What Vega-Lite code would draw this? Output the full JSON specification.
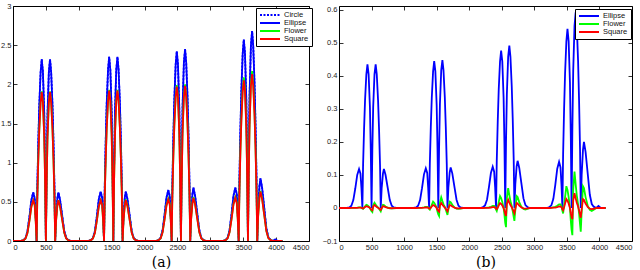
{
  "$schema": "https://vega.github.io/schema/vega-lite/v6.json",
  "background": "#ffffff",
  "padding": {"left": 0, "top": 1, "right": 0, "bottom": 0},
  "spacing": 30,
  "bounds": "flush",
  "datasets": {
    "a": [
      {"x":0,"Circle":0,"Ellipse":0,"Flower":0,"Square":0},
      {"x":120,"Circle":0,"Ellipse":0,"Flower":0,"Square":0},
      {"x":160,"Circle":0.012,"Ellipse":0.012,"Flower":0.01,"Square":0.01},
      {"x":190,"Circle":0.037,"Ellipse":0.037,"Flower":0.031,"Square":0.031},
      {"x":220,"Circle":0.124,"Ellipse":0.124,"Flower":0.104,"Square":0.104},
      {"x":250,"Circle":0.31,"Ellipse":0.31,"Flower":0.26,"Square":0.26},
      {"x":280,"Circle":0.527,"Ellipse":0.527,"Flower":0.442,"Square":0.442},
      {"x":308,"Circle":0.62,"Ellipse":0.62,"Flower":0.52,"Square":0.52},
      {"x":330,"Circle":0.546,"Ellipse":0.546,"Flower":0.458,"Square":0.458},
      {"x":345,"Circle":0.31,"Ellipse":0.31,"Flower":0.26,"Square":0.26},
      {"x":359,"Circle":0,"Ellipse":0,"Flower":0,"Square":0},
      {"x":370,"Circle":0.696,"Ellipse":0.696,"Flower":0.573,"Square":0.57},
      {"x":385,"Circle":1.276,"Ellipse":1.276,"Flower":1.051,"Square":1.045},
      {"x":400,"Circle":1.74,"Ellipse":1.74,"Flower":1.433,"Square":1.425},
      {"x":420,"Circle":2.158,"Ellipse":2.158,"Flower":1.776,"Square":1.767},
      {"x":437,"Circle":2.32,"Ellipse":2.32,"Flower":1.91,"Square":1.9},
      {"x":455,"Circle":2.158,"Ellipse":2.158,"Flower":1.776,"Square":1.767},
      {"x":475,"Circle":1.624,"Ellipse":1.624,"Flower":1.337,"Square":1.33},
      {"x":488,"Circle":0.928,"Ellipse":0.928,"Flower":0.764,"Square":0.76},
      {"x":500,"Circle":0,"Ellipse":0,"Flower":0,"Square":0},
      {"x":512,"Circle":0.928,"Ellipse":0.928,"Flower":0.764,"Square":0.76},
      {"x":525,"Circle":1.624,"Ellipse":1.624,"Flower":1.337,"Square":1.33},
      {"x":545,"Circle":2.158,"Ellipse":2.158,"Flower":1.776,"Square":1.767},
      {"x":563,"Circle":2.32,"Ellipse":2.32,"Flower":1.91,"Square":1.9},
      {"x":580,"Circle":2.158,"Ellipse":2.158,"Flower":1.776,"Square":1.767},
      {"x":600,"Circle":1.74,"Ellipse":1.74,"Flower":1.433,"Square":1.425},
      {"x":615,"Circle":1.276,"Ellipse":1.276,"Flower":1.051,"Square":1.045},
      {"x":630,"Circle":0.696,"Ellipse":0.696,"Flower":0.573,"Square":0.57},
      {"x":641,"Circle":0,"Ellipse":0,"Flower":0,"Square":0},
      {"x":655,"Circle":0.31,"Ellipse":0.31,"Flower":0.26,"Square":0.26},
      {"x":675,"Circle":0.546,"Ellipse":0.546,"Flower":0.458,"Square":0.458},
      {"x":690,"Circle":0.62,"Ellipse":0.62,"Flower":0.52,"Square":0.52},
      {"x":715,"Circle":0.527,"Ellipse":0.527,"Flower":0.442,"Square":0.442},
      {"x":750,"Circle":0.31,"Ellipse":0.31,"Flower":0.26,"Square":0.26},
      {"x":780,"Circle":0.124,"Ellipse":0.124,"Flower":0.104,"Square":0.104},
      {"x":810,"Circle":0.037,"Ellipse":0.037,"Flower":0.031,"Square":0.031},
      {"x":840,"Circle":0.012,"Ellipse":0.012,"Flower":0.01,"Square":0.01},
      {"x":880,"Circle":0,"Ellipse":0,"Flower":0,"Square":0},
      {"x":1145,"Circle":0,"Ellipse":0,"Flower":0,"Square":0},
      {"x":1185,"Circle":0.013,"Ellipse":0.013,"Flower":0.01,"Square":0.01},
      {"x":1215,"Circle":0.038,"Ellipse":0.038,"Flower":0.031,"Square":0.031},
      {"x":1245,"Circle":0.126,"Ellipse":0.126,"Flower":0.104,"Square":0.104},
      {"x":1275,"Circle":0.315,"Ellipse":0.315,"Flower":0.26,"Square":0.26},
      {"x":1305,"Circle":0.536,"Ellipse":0.536,"Flower":0.442,"Square":0.442},
      {"x":1333,"Circle":0.63,"Ellipse":0.63,"Flower":0.52,"Square":0.52},
      {"x":1355,"Circle":0.554,"Ellipse":0.554,"Flower":0.458,"Square":0.458},
      {"x":1370,"Circle":0.315,"Ellipse":0.315,"Flower":0.26,"Square":0.26},
      {"x":1384,"Circle":0,"Ellipse":0,"Flower":0,"Square":0},
      {"x":1395,"Circle":0.705,"Ellipse":0.705,"Flower":0.579,"Square":0.576},
      {"x":1410,"Circle":1.293,"Ellipse":1.293,"Flower":1.062,"Square":1.056},
      {"x":1425,"Circle":1.763,"Ellipse":1.763,"Flower":1.448,"Square":1.44},
      {"x":1445,"Circle":2.186,"Ellipse":2.186,"Flower":1.795,"Square":1.786},
      {"x":1462,"Circle":2.35,"Ellipse":2.35,"Flower":1.93,"Square":1.92},
      {"x":1480,"Circle":2.186,"Ellipse":2.186,"Flower":1.795,"Square":1.786},
      {"x":1500,"Circle":1.645,"Ellipse":1.645,"Flower":1.351,"Square":1.344},
      {"x":1513,"Circle":0.94,"Ellipse":0.94,"Flower":0.772,"Square":0.768},
      {"x":1525,"Circle":0,"Ellipse":0,"Flower":0,"Square":0},
      {"x":1537,"Circle":0.94,"Ellipse":0.94,"Flower":0.772,"Square":0.768},
      {"x":1550,"Circle":1.645,"Ellipse":1.645,"Flower":1.351,"Square":1.344},
      {"x":1570,"Circle":2.186,"Ellipse":2.186,"Flower":1.795,"Square":1.786},
      {"x":1588,"Circle":2.35,"Ellipse":2.35,"Flower":1.93,"Square":1.92},
      {"x":1605,"Circle":2.186,"Ellipse":2.186,"Flower":1.795,"Square":1.786},
      {"x":1625,"Circle":1.763,"Ellipse":1.763,"Flower":1.448,"Square":1.44},
      {"x":1640,"Circle":1.293,"Ellipse":1.293,"Flower":1.062,"Square":1.056},
      {"x":1655,"Circle":0.705,"Ellipse":0.705,"Flower":0.579,"Square":0.576},
      {"x":1666,"Circle":0,"Ellipse":0,"Flower":0,"Square":0},
      {"x":1680,"Circle":0.315,"Ellipse":0.315,"Flower":0.265,"Square":0.26},
      {"x":1700,"Circle":0.554,"Ellipse":0.554,"Flower":0.466,"Square":0.458},
      {"x":1715,"Circle":0.63,"Ellipse":0.63,"Flower":0.53,"Square":0.52},
      {"x":1740,"Circle":0.536,"Ellipse":0.536,"Flower":0.451,"Square":0.442},
      {"x":1775,"Circle":0.315,"Ellipse":0.315,"Flower":0.265,"Square":0.26},
      {"x":1805,"Circle":0.126,"Ellipse":0.126,"Flower":0.106,"Square":0.104},
      {"x":1835,"Circle":0.038,"Ellipse":0.038,"Flower":0.032,"Square":0.031},
      {"x":1865,"Circle":0.013,"Ellipse":0.013,"Flower":0.011,"Square":0.01},
      {"x":1905,"Circle":0,"Ellipse":0,"Flower":0,"Square":0},
      {"x":2173,"Circle":0,"Ellipse":0,"Flower":0,"Square":0},
      {"x":2213,"Circle":0.013,"Ellipse":0.013,"Flower":0.011,"Square":0.011},
      {"x":2243,"Circle":0.039,"Ellipse":0.039,"Flower":0.032,"Square":0.032},
      {"x":2273,"Circle":0.13,"Ellipse":0.13,"Flower":0.108,"Square":0.106},
      {"x":2303,"Circle":0.325,"Ellipse":0.325,"Flower":0.27,"Square":0.265},
      {"x":2333,"Circle":0.553,"Ellipse":0.553,"Flower":0.459,"Square":0.451},
      {"x":2361,"Circle":0.65,"Ellipse":0.65,"Flower":0.54,"Square":0.53},
      {"x":2383,"Circle":0.572,"Ellipse":0.572,"Flower":0.475,"Square":0.466},
      {"x":2398,"Circle":0.325,"Ellipse":0.325,"Flower":0.27,"Square":0.265},
      {"x":2412,"Circle":0,"Ellipse":0,"Flower":0,"Square":0},
      {"x":2423,"Circle":0.726,"Ellipse":0.726,"Flower":0.597,"Square":0.591},
      {"x":2438,"Circle":1.331,"Ellipse":1.331,"Flower":1.095,"Square":1.084},
      {"x":2453,"Circle":1.815,"Ellipse":1.815,"Flower":1.493,"Square":1.478},
      {"x":2473,"Circle":2.251,"Ellipse":2.251,"Flower":1.851,"Square":1.832},
      {"x":2490,"Circle":2.42,"Ellipse":2.42,"Flower":1.99,"Square":1.97},
      {"x":2508,"Circle":2.251,"Ellipse":2.251,"Flower":1.851,"Square":1.832},
      {"x":2528,"Circle":1.694,"Ellipse":1.694,"Flower":1.393,"Square":1.379},
      {"x":2541,"Circle":0.968,"Ellipse":0.968,"Flower":0.796,"Square":0.788},
      {"x":2553,"Circle":0,"Ellipse":0,"Flower":0,"Square":0},
      {"x":2565,"Circle":0.98,"Ellipse":0.98,"Flower":0.8,"Square":0.792},
      {"x":2578,"Circle":1.715,"Ellipse":1.715,"Flower":1.4,"Square":1.386},
      {"x":2598,"Circle":2.279,"Ellipse":2.279,"Flower":1.86,"Square":1.841},
      {"x":2616,"Circle":2.45,"Ellipse":2.45,"Flower":2.0,"Square":1.98},
      {"x":2633,"Circle":2.279,"Ellipse":2.279,"Flower":1.86,"Square":1.841},
      {"x":2653,"Circle":1.838,"Ellipse":1.838,"Flower":1.5,"Square":1.485},
      {"x":2668,"Circle":1.348,"Ellipse":1.348,"Flower":1.1,"Square":1.089},
      {"x":2683,"Circle":0.735,"Ellipse":0.735,"Flower":0.6,"Square":0.594},
      {"x":2694,"Circle":0,"Ellipse":0,"Flower":0,"Square":0},
      {"x":2708,"Circle":0.34,"Ellipse":0.34,"Flower":0.28,"Square":0.275},
      {"x":2728,"Circle":0.598,"Ellipse":0.598,"Flower":0.493,"Square":0.484},
      {"x":2743,"Circle":0.68,"Ellipse":0.68,"Flower":0.56,"Square":0.55},
      {"x":2768,"Circle":0.578,"Ellipse":0.578,"Flower":0.476,"Square":0.468},
      {"x":2803,"Circle":0.34,"Ellipse":0.34,"Flower":0.28,"Square":0.275},
      {"x":2833,"Circle":0.136,"Ellipse":0.136,"Flower":0.112,"Square":0.11},
      {"x":2863,"Circle":0.041,"Ellipse":0.041,"Flower":0.034,"Square":0.033},
      {"x":2893,"Circle":0.014,"Ellipse":0.014,"Flower":0.011,"Square":0.011},
      {"x":2933,"Circle":0,"Ellipse":0,"Flower":0,"Square":0},
      {"x":3192,"Circle":0,"Ellipse":0,"Flower":0,"Square":0},
      {"x":3232,"Circle":0.014,"Ellipse":0.014,"Flower":0.011,"Square":0.011},
      {"x":3262,"Circle":0.041,"Ellipse":0.041,"Flower":0.034,"Square":0.033},
      {"x":3292,"Circle":0.136,"Ellipse":0.136,"Flower":0.112,"Square":0.11},
      {"x":3322,"Circle":0.34,"Ellipse":0.34,"Flower":0.28,"Square":0.275},
      {"x":3352,"Circle":0.578,"Ellipse":0.578,"Flower":0.476,"Square":0.468},
      {"x":3380,"Circle":0.68,"Ellipse":0.68,"Flower":0.56,"Square":0.55},
      {"x":3402,"Circle":0.598,"Ellipse":0.598,"Flower":0.493,"Square":0.484},
      {"x":3417,"Circle":0.34,"Ellipse":0.34,"Flower":0.28,"Square":0.275},
      {"x":3431,"Circle":0,"Ellipse":0,"Flower":0,"Square":0},
      {"x":3442,"Circle":0.771,"Ellipse":0.771,"Flower":0.627,"Square":0.615},
      {"x":3457,"Circle":1.414,"Ellipse":1.414,"Flower":1.15,"Square":1.128},
      {"x":3472,"Circle":1.928,"Ellipse":1.928,"Flower":1.568,"Square":1.538},
      {"x":3492,"Circle":2.39,"Ellipse":2.39,"Flower":1.944,"Square":1.907},
      {"x":3509,"Circle":2.57,"Ellipse":2.57,"Flower":2.09,"Square":2.05},
      {"x":3527,"Circle":2.39,"Ellipse":2.39,"Flower":1.944,"Square":1.907},
      {"x":3547,"Circle":1.799,"Ellipse":1.799,"Flower":1.463,"Square":1.435},
      {"x":3560,"Circle":1.028,"Ellipse":1.028,"Flower":0.836,"Square":0.82},
      {"x":3572,"Circle":0,"Ellipse":0,"Flower":0,"Square":0},
      {"x":3584,"Circle":1.072,"Ellipse":1.072,"Flower":0.868,"Square":0.852},
      {"x":3597,"Circle":1.876,"Ellipse":1.876,"Flower":1.519,"Square":1.491},
      {"x":3617,"Circle":2.492,"Ellipse":2.492,"Flower":2.018,"Square":1.981},
      {"x":3635,"Circle":2.68,"Ellipse":2.68,"Flower":2.17,"Square":2.13},
      {"x":3652,"Circle":2.492,"Ellipse":2.492,"Flower":2.018,"Square":1.981},
      {"x":3672,"Circle":2.01,"Ellipse":2.01,"Flower":1.628,"Square":1.598},
      {"x":3687,"Circle":1.474,"Ellipse":1.474,"Flower":1.194,"Square":1.172},
      {"x":3702,"Circle":0.804,"Ellipse":0.804,"Flower":0.651,"Square":0.639},
      {"x":3713,"Circle":0,"Ellipse":0,"Flower":0,"Square":0},
      {"x":3727,"Circle":0.4,"Ellipse":0.4,"Flower":0.32,"Square":0.315},
      {"x":3747,"Circle":0.704,"Ellipse":0.704,"Flower":0.563,"Square":0.554},
      {"x":3762,"Circle":0.8,"Ellipse":0.8,"Flower":0.64,"Square":0.63},
      {"x":3787,"Circle":0.68,"Ellipse":0.68,"Flower":0.544,"Square":0.536},
      {"x":3822,"Circle":0.4,"Ellipse":0.4,"Flower":0.32,"Square":0.315},
      {"x":3852,"Circle":0.16,"Ellipse":0.16,"Flower":0.128,"Square":0.126},
      {"x":3882,"Circle":0.048,"Ellipse":0.048,"Flower":0.038,"Square":0.038},
      {"x":3912,"Circle":0.016,"Ellipse":0.016,"Flower":0.013,"Square":0.013},
      {"x":3952,"Circle":0,"Ellipse":0,"Flower":0,"Square":0},
      {"x":3985,"Circle":0.02,"Ellipse":0.02,"Flower":0,"Square":0},
      {"x":4020,"Circle":0,"Ellipse":0,"Flower":0,"Square":0},
      {"x":4096,"Circle":0,"Ellipse":0,"Flower":0,"Square":0}
    ],
    "b": [
      {"x":0,"Ellipse":0,"Flower":0,"Square":0},
      {"x":120,"Ellipse":0,"Flower":0,"Square":0},
      {"x":160,"Ellipse":0.002,"Flower":0,"Square":0},
      {"x":190,"Ellipse":0.007,"Flower":0.0002,"Square":0.0001},
      {"x":220,"Ellipse":0.024,"Flower":0.0003,"Square":0.0002},
      {"x":250,"Ellipse":0.059,"Flower":0.0005,"Square":0.0003},
      {"x":280,"Ellipse":0.1,"Flower":0.001,"Square":0.0005},
      {"x":308,"Ellipse":0.118,"Flower":0.0016,"Square":0.0009},
      {"x":330,"Ellipse":0.104,"Flower":0.0016,"Square":0.0009},
      {"x":345,"Ellipse":0.059,"Flower":0.0008,"Square":0.0005},
      {"x":359,"Ellipse":0,"Flower":-0.0013,"Square":-0.0007},
      {"x":370,"Ellipse":0.131,"Flower":-0.0024,"Square":-0.0014},
      {"x":385,"Ellipse":0.239,"Flower":0.0008,"Square":0.0005},
      {"x":400,"Ellipse":0.326,"Flower":0.0048,"Square":0.0027},
      {"x":420,"Ellipse":0.405,"Flower":0.0096,"Square":0.0054},
      {"x":437,"Ellipse":0.435,"Flower":0.008,"Square":0.0045},
      {"x":455,"Ellipse":0.405,"Flower":0.0048,"Square":0.0027},
      {"x":475,"Ellipse":0.305,"Flower":0,"Square":0},
      {"x":488,"Ellipse":0.174,"Flower":-0.0056,"Square":-0.0032},
      {"x":500,"Ellipse":0,"Flower":-0.0096,"Square":-0.0054},
      {"x":512,"Ellipse":0.174,"Flower":-0.012,"Square":-0.0068},
      {"x":525,"Ellipse":0.305,"Flower":0.008,"Square":0.0045},
      {"x":545,"Ellipse":0.405,"Flower":0.016,"Square":0.009},
      {"x":563,"Ellipse":0.435,"Flower":0.0104,"Square":0.0059},
      {"x":580,"Ellipse":0.405,"Flower":0.0056,"Square":0.0032},
      {"x":600,"Ellipse":0.326,"Flower":0.0016,"Square":0.0009},
      {"x":615,"Ellipse":0.239,"Flower":-0.0024,"Square":-0.0014},
      {"x":630,"Ellipse":0.131,"Flower":-0.0072,"Square":-0.0041},
      {"x":641,"Ellipse":0,"Flower":-0.0104,"Square":-0.0059},
      {"x":655,"Ellipse":0.059,"Flower":-0.0016,"Square":-0.0009},
      {"x":675,"Ellipse":0.104,"Flower":0.0096,"Square":0.0054},
      {"x":690,"Ellipse":0.118,"Flower":0.0088,"Square":0.005},
      {"x":715,"Ellipse":0.1,"Flower":0.0048,"Square":0.0027},
      {"x":750,"Ellipse":0.059,"Flower":0.0008,"Square":0.0005},
      {"x":780,"Ellipse":0.024,"Flower":-0.0008,"Square":-0.0005},
      {"x":810,"Ellipse":0.007,"Flower":-0.0013,"Square":-0.0007},
      {"x":840,"Ellipse":0.002,"Flower":-0.0008,"Square":-0.0005},
      {"x":880,"Ellipse":0,"Flower":0,"Square":0},
      {"x":1145,"Ellipse":0,"Flower":0,"Square":0},
      {"x":1185,"Ellipse":0.002,"Flower":0,"Square":0},
      {"x":1215,"Ellipse":0.007,"Flower":0.0003,"Square":0.0002},
      {"x":1245,"Ellipse":0.024,"Flower":0.0006,"Square":0.0003},
      {"x":1275,"Ellipse":0.06,"Flower":0.001,"Square":0.0005},
      {"x":1305,"Ellipse":0.102,"Flower":0.0019,"Square":0.0009},
      {"x":1333,"Ellipse":0.12,"Flower":0.0032,"Square":0.0015},
      {"x":1355,"Ellipse":0.106,"Flower":0.0032,"Square":0.0015},
      {"x":1370,"Ellipse":0.06,"Flower":0.0016,"Square":0.0008},
      {"x":1384,"Ellipse":0,"Flower":-0.0026,"Square":-0.0012},
      {"x":1395,"Ellipse":0.134,"Flower":-0.0048,"Square":-0.0023},
      {"x":1410,"Ellipse":0.245,"Flower":0.0016,"Square":0.0008},
      {"x":1425,"Ellipse":0.334,"Flower":0.0096,"Square":0.0045},
      {"x":1445,"Ellipse":0.414,"Flower":0.0192,"Square":0.009},
      {"x":1462,"Ellipse":0.445,"Flower":0.016,"Square":0.0075},
      {"x":1480,"Ellipse":0.414,"Flower":0.0096,"Square":0.0045},
      {"x":1500,"Ellipse":0.312,"Flower":0,"Square":0},
      {"x":1513,"Ellipse":0.178,"Flower":-0.0112,"Square":-0.0053},
      {"x":1525,"Ellipse":0,"Flower":-0.0192,"Square":-0.009},
      {"x":1537,"Ellipse":0.179,"Flower":-0.024,"Square":-0.0113},
      {"x":1550,"Ellipse":0.314,"Flower":0.016,"Square":0.0075},
      {"x":1570,"Ellipse":0.417,"Flower":0.032,"Square":0.015},
      {"x":1588,"Ellipse":0.448,"Flower":0.0208,"Square":0.0098},
      {"x":1605,"Ellipse":0.417,"Flower":0.0112,"Square":0.0053},
      {"x":1625,"Ellipse":0.336,"Flower":0.0032,"Square":0.0015},
      {"x":1640,"Ellipse":0.246,"Flower":-0.0048,"Square":-0.0023},
      {"x":1655,"Ellipse":0.134,"Flower":-0.0144,"Square":-0.0068},
      {"x":1666,"Ellipse":0,"Flower":-0.0208,"Square":-0.0098},
      {"x":1680,"Ellipse":0.062,"Flower":-0.0032,"Square":-0.0015},
      {"x":1700,"Ellipse":0.108,"Flower":0.0192,"Square":0.009},
      {"x":1715,"Ellipse":0.123,"Flower":0.0176,"Square":0.0083},
      {"x":1740,"Ellipse":0.105,"Flower":0.0096,"Square":0.0045},
      {"x":1775,"Ellipse":0.062,"Flower":0.0016,"Square":0.0008},
      {"x":1805,"Ellipse":0.025,"Flower":-0.0016,"Square":-0.0008},
      {"x":1835,"Ellipse":0.007,"Flower":-0.0026,"Square":-0.0012},
      {"x":1865,"Ellipse":0.002,"Flower":-0.0016,"Square":-0.0008},
      {"x":1905,"Ellipse":0,"Flower":0,"Square":0},
      {"x":2173,"Ellipse":0,"Flower":0,"Square":0},
      {"x":2213,"Ellipse":0.003,"Flower":0,"Square":0},
      {"x":2243,"Ellipse":0.008,"Flower":0.0006,"Square":0.0003},
      {"x":2273,"Ellipse":0.025,"Flower":0.0012,"Square":0.0005},
      {"x":2303,"Ellipse":0.063,"Flower":0.0018,"Square":0.0008},
      {"x":2333,"Ellipse":0.106,"Flower":0.0036,"Square":0.0015},
      {"x":2361,"Ellipse":0.125,"Flower":0.006,"Square":0.0025},
      {"x":2383,"Ellipse":0.11,"Flower":0.006,"Square":0.0025},
      {"x":2398,"Ellipse":0.063,"Flower":0.003,"Square":0.0013},
      {"x":2412,"Ellipse":0,"Flower":-0.0048,"Square":-0.002},
      {"x":2423,"Ellipse":0.143,"Flower":-0.009,"Square":-0.0038},
      {"x":2438,"Ellipse":0.262,"Flower":0.003,"Square":0.0013},
      {"x":2453,"Ellipse":0.358,"Flower":0.018,"Square":0.0075},
      {"x":2473,"Ellipse":0.444,"Flower":0.036,"Square":0.015},
      {"x":2490,"Ellipse":0.477,"Flower":0.03,"Square":0.0125},
      {"x":2508,"Ellipse":0.444,"Flower":0.018,"Square":0.0075},
      {"x":2528,"Ellipse":0.334,"Flower":0,"Square":0},
      {"x":2541,"Ellipse":0.191,"Flower":-0.021,"Square":-0.0088},
      {"x":2553,"Ellipse":0,"Flower":-0.045,"Square":-0.018},
      {"x":2565,"Ellipse":0.197,"Flower":-0.058,"Square":-0.024},
      {"x":2578,"Ellipse":0.344,"Flower":0.03,"Square":0.0125},
      {"x":2598,"Ellipse":0.458,"Flower":0.06,"Square":0.025},
      {"x":2616,"Ellipse":0.492,"Flower":0.039,"Square":0.0163},
      {"x":2633,"Ellipse":0.458,"Flower":0.021,"Square":0.0088},
      {"x":2653,"Ellipse":0.369,"Flower":0.006,"Square":0.0025},
      {"x":2668,"Ellipse":0.271,"Flower":-0.009,"Square":-0.0038},
      {"x":2683,"Ellipse":0.148,"Flower":-0.027,"Square":-0.0113},
      {"x":2694,"Ellipse":0,"Flower":-0.039,"Square":-0.0163},
      {"x":2708,"Ellipse":0.072,"Flower":-0.006,"Square":-0.0025},
      {"x":2728,"Ellipse":0.126,"Flower":0.036,"Square":0.015},
      {"x":2743,"Ellipse":0.143,"Flower":0.033,"Square":0.0138},
      {"x":2768,"Ellipse":0.122,"Flower":0.018,"Square":0.0075},
      {"x":2803,"Ellipse":0.072,"Flower":0.003,"Square":0.0013},
      {"x":2833,"Ellipse":0.029,"Flower":-0.003,"Square":-0.0013},
      {"x":2863,"Ellipse":0.009,"Flower":-0.0048,"Square":-0.002},
      {"x":2893,"Ellipse":0.003,"Flower":-0.003,"Square":-0.0013},
      {"x":2933,"Ellipse":0,"Flower":0,"Square":0},
      {"x":3192,"Ellipse":0,"Flower":0,"Square":0},
      {"x":3232,"Ellipse":0.003,"Flower":0,"Square":0},
      {"x":3262,"Ellipse":0.008,"Flower":0.0011,"Square":0.0005},
      {"x":3292,"Ellipse":0.028,"Flower":0.0022,"Square":0.0009},
      {"x":3322,"Ellipse":0.07,"Flower":0.0033,"Square":0.0014},
      {"x":3352,"Ellipse":0.119,"Flower":0.0066,"Square":0.0027},
      {"x":3380,"Ellipse":0.14,"Flower":0.011,"Square":0.0045},
      {"x":3402,"Ellipse":0.123,"Flower":0.011,"Square":0.0045},
      {"x":3417,"Ellipse":0.07,"Flower":0.0055,"Square":0.0023},
      {"x":3431,"Ellipse":0,"Flower":-0.0088,"Square":-0.0036},
      {"x":3442,"Ellipse":0.163,"Flower":-0.0165,"Square":-0.0068},
      {"x":3457,"Ellipse":0.299,"Flower":0.0055,"Square":0.0023},
      {"x":3472,"Ellipse":0.407,"Flower":0.033,"Square":0.0135},
      {"x":3492,"Ellipse":0.505,"Flower":0.066,"Square":0.027},
      {"x":3509,"Ellipse":0.543,"Flower":0.055,"Square":0.0225},
      {"x":3527,"Ellipse":0.505,"Flower":0.033,"Square":0.0135},
      {"x":3547,"Ellipse":0.38,"Flower":0,"Square":0},
      {"x":3560,"Ellipse":0.217,"Flower":-0.0385,"Square":-0.0158},
      {"x":3572,"Ellipse":0,"Flower":-0.066,"Square":-0.027},
      {"x":3584,"Ellipse":0.237,"Flower":-0.0825,"Square":-0.0338},
      {"x":3597,"Ellipse":0.415,"Flower":0.055,"Square":0.0225},
      {"x":3617,"Ellipse":0.551,"Flower":0.11,"Square":0.045},
      {"x":3635,"Ellipse":0.593,"Flower":0.0715,"Square":0.0293},
      {"x":3652,"Ellipse":0.551,"Flower":0.0385,"Square":0.0158},
      {"x":3672,"Ellipse":0.445,"Flower":0.011,"Square":0.0045},
      {"x":3687,"Ellipse":0.326,"Flower":-0.0165,"Square":-0.0068},
      {"x":3702,"Ellipse":0.178,"Flower":-0.0495,"Square":-0.0203},
      {"x":3713,"Ellipse":0,"Flower":-0.0715,"Square":-0.0293},
      {"x":3727,"Ellipse":0.1,"Flower":-0.011,"Square":-0.0045},
      {"x":3747,"Ellipse":0.176,"Flower":0.066,"Square":0.027},
      {"x":3762,"Ellipse":0.2,"Flower":0.0605,"Square":0.0248},
      {"x":3787,"Ellipse":0.17,"Flower":0.033,"Square":0.0135},
      {"x":3822,"Ellipse":0.1,"Flower":0.0055,"Square":0.0023},
      {"x":3852,"Ellipse":0.04,"Flower":-0.0055,"Square":-0.0023},
      {"x":3882,"Ellipse":0.012,"Flower":-0.0088,"Square":-0.0036},
      {"x":3912,"Ellipse":0.004,"Flower":-0.0055,"Square":-0.0023},
      {"x":3952,"Ellipse":0,"Flower":0,"Square":0},
      {"x":3985,"Ellipse":0.006,"Flower":0,"Square":0},
      {"x":4020,"Ellipse":0,"Flower":0,"Square":0},
      {"x":4096,"Ellipse":0,"Flower":0,"Square":0}
    ]
  },
  "hconcat": [
    {
      "width": 296,
      "height": 235,
      "data": {"name": "a"},
      "transform": [{"fold": ["Circle", "Ellipse", "Flower", "Square"], "as": ["series", "val"]}],
      "layer": [
        {
          "mark": {"type": "line", "strokeWidth": 1.8, "clip": true},
          "encoding": {
            "x": {"field": "x", "type": "quantitative", "scale": {"domain": [0, 4500], "nice": false},
                  "axis": {"values": [0,500,1000,1500,2000,2500,3000,3500,4000,4500], "format": "d", "title": "(a)"}},
            "y": {"field": "val", "type": "quantitative", "scale": {"domain": [0, 3], "nice": false},
                  "axis": {"values": [0,0.5,1,1.5,2,2.5,3], "format": "~g", "title": null}},
            "color": {"field": "series", "type": "nominal",
                      "scale": {"domain": ["Circle","Ellipse","Flower","Square"], "range": ["#0000ff","#0000ff","#00ff00","#ff0000"]},
                      "legend": {"orient": "none", "legendX": 243, "legendY": 2, "title": null}},
            "strokeDash": {"field": "series", "type": "nominal",
                      "scale": {"domain": ["Circle","Ellipse","Flower","Square"], "range": [[2,1.5],[1,0],[1,0],[1,0]]},
                      "legend": {"orient": "none", "legendX": 243, "legendY": 2, "title": null}}
          }
        },
        {
          "mark": {"type": "line", "opacity": 0},
          "encoding": {
            "x": {"field": "x", "type": "quantitative", "scale": {"domain": [0, 4500], "nice": false},
                  "axis": {"orient": "top", "values": [0,500,1000,1500,2000,2500,3000,3500,4000,4500], "labels": false, "title": null}},
            "y": {"field": "val", "type": "quantitative", "scale": {"domain": [0, 3], "nice": false},
                  "axis": {"orient": "right", "values": [0,0.5,1,1.5,2,2.5,3], "labels": false, "title": null}}
          }
        }
      ],
      "resolve": {"axis": {"x": "independent", "y": "independent"}}
    },
    {
      "width": 293,
      "height": 235,
      "data": {"name": "b"},
      "transform": [{"fold": ["Ellipse", "Flower", "Square"], "as": ["series", "val"]}],
      "layer": [
        {
          "mark": {"type": "line", "strokeWidth": 1.8, "clip": true},
          "encoding": {
            "x": {"field": "x", "type": "quantitative", "scale": {"domain": [0, 4500], "nice": false},
                  "axis": {"values": [0,500,1000,1500,2000,2500,3000,3500,4000,4500], "format": "d", "title": "(b)"}},
            "y": {"field": "val", "type": "quantitative", "scale": {"domain": [-0.1, 0.612], "nice": false, "zero": false},
                  "axis": {"values": [-0.1,0,0.1,0.2,0.3,0.4,0.5,0.6], "format": "~g", "title": null}},
            "color": {"field": "series", "type": "nominal",
                      "scale": {"domain": ["Ellipse","Flower","Square"], "range": ["#0000ff","#00ff00","#ff0000"]},
                      "legend": {"orient": "none", "legendX": 236, "legendY": 3, "title": null}}
          }
        },
        {
          "mark": {"type": "line", "opacity": 0},
          "encoding": {
            "x": {"field": "x", "type": "quantitative", "scale": {"domain": [0, 4500], "nice": false},
                  "axis": {"orient": "top", "values": [0,500,1000,1500,2000,2500,3000,3500,4000,4500], "labels": false, "title": null}},
            "y": {"field": "val", "type": "quantitative", "scale": {"domain": [-0.1, 0.612], "nice": false, "zero": false},
                  "axis": {"orient": "right", "values": [-0.1,0,0.1,0.2,0.3,0.4,0.5,0.6], "labels": false, "title": null}}
          }
        }
      ],
      "resolve": {"axis": {"x": "independent", "y": "independent"}}
    }
  ],
  "resolve": {"scale": {"color": "independent", "strokeDash": "independent"}, "legend": {"color": "independent", "strokeDash": "independent"}},
  "config": {
    "view": {"stroke": "#000000", "strokeWidth": 1},
    "axis": {
      "grid": false, "domain": false, "ticks": true, "tickColor": "#000000", "tickSize": -4, "tickWidth": 0.8,
      "labelFont": "Liberation Sans", "labelFontSize": 7.5, "labelColor": "#222222", "labelPadding": 6,
      "titleFont": "DejaVu Serif", "titleFontSize": 14, "titleFontWeight": "normal", "titleColor": "#000000", "titlePadding": 5
    },
    "legend": {
      "symbolType": "stroke", "symbolSize": 400, "symbolStrokeWidth": 2, "clipHeight": 8,
      "labelFont": "Liberation Sans", "labelFontSize": 7.5, "labelColor": "#111111", "labelOffset": 3,
      "rowPadding": 0, "padding": 3, "strokeColor": "#000000", "fillColor": "#ffffff", "cornerRadius": 0
    }
  }
}
